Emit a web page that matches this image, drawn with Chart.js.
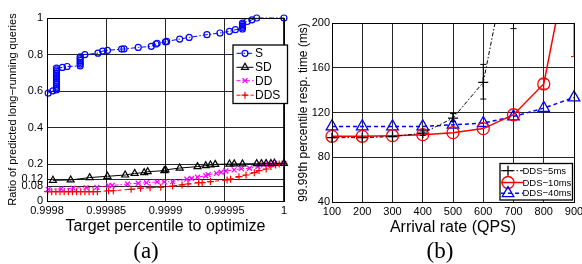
<!DOCTYPE html>
<html>
<head>
<meta charset="utf-8">
<script src="https://cdn.jsdelivr.net/npm/chart.js@4.4.1/dist/chart.umd.min.js"></script>
<style>
  html, body { margin: 0; padding: 0; background: #fff; }
  body { width: 582px; height: 264px; position: relative; overflow: hidden; }
  canvas { position: absolute; top: 0; }
  #chartA { left: 0; }
  #chartB { left: 290px; }
  .cap { position: absolute; top: 238px; line-height: 26px; font-family: "Liberation Serif", "DejaVu Serif", serif; font-size: 23px; transform: translateX(-50%); }
</style>
</head>
<body>
<canvas id="chartA" width="290" height="264"></canvas>
<canvas id="chartB" width="310" height="264"></canvas>
<div class="cap" style="left:146px">(a)</div>
<div class="cap" style="left:440px">(b)</div>
<script>
// (a) ratio of predicted long-running queries vs target percentile
const percentileTicks = [0.9998, 0.99985, 0.9999, 0.99995, 1];
const percentileLabels = ['0.9998', '0.99985', '0.9999', '0.99995', '1'];
const ratioTicks = [0, 0.08, 0.12, 0.2, 0.4, 0.6, 0.8, 1];
const ratioLabels = ['0', '0.08', '0.12', '0.2', '0.4', '0.6', '0.8', '1'];

const seriesS = [
  [0.999801, 0.590], [0.999805, 0.602],
  [0.999808, 0.607], [0.999808, 0.617], [0.999808, 0.627], [0.999808, 0.637], [0.999808, 0.647],
  [0.999808, 0.657], [0.999808, 0.667], [0.999808, 0.677], [0.999808, 0.687], [0.999808, 0.697],
  [0.999808, 0.707], [0.999808, 0.717], [0.999808, 0.726],
  [0.999813, 0.730], [0.999817, 0.735],
  [0.999828, 0.738], [0.999828, 0.748], [0.999828, 0.758], [0.999828, 0.768], [0.999828, 0.778], [0.999828, 0.788],
  [0.999832, 0.800], [0.999843, 0.808], [0.999847, 0.819], [0.999851, 0.823], [0.999863, 0.830],
  [0.999865, 0.831], [0.999877, 0.839], [0.999888, 0.845], [0.999892, 0.858], [0.999893, 0.862],
  [0.999900, 0.869], [0.999901, 0.872], [0.999912, 0.885], [0.999920, 0.894], [0.999935, 0.909],
  [0.999946, 0.918], [0.999954, 0.927], [0.999959, 0.936],
  [0.999965, 0.940], [0.999965, 0.948], [0.999965, 0.956], [0.999965, 0.964], [0.999965, 0.972],
  [0.999969, 0.981], [0.999973, 0.990], [0.999977, 1.000], [1, 1.000]
];
const seriesSD = [
  [0.999805, 0.113], [0.999820, 0.115], [0.999836, 0.128], [0.999851, 0.135], [0.999866, 0.142],
  [0.999874, 0.151], [0.999882, 0.155], [0.999885, 0.160], [0.999899, 0.166], [0.999900, 0.170],
  [0.999912, 0.180], [0.999927, 0.188], [0.999934, 0.193], [0.999938, 0.197], [0.999942, 0.200],
  [0.999954, 0.202], [0.999958, 0.203], [0.999965, 0.203], [0.999977, 0.204], [0.999981, 0.204],
  [0.999985, 0.205], [0.999989, 0.205], [0.999992, 0.206], [1, 0.206]
];
const seriesDD = [
  [0.999801, 0.064], [0.999812, 0.066], [0.999822, 0.070], [0.999833, 0.073], [0.999842, 0.075],
  [0.999852, 0.084], [0.999855, 0.085], [0.999868, 0.093], [0.999877, 0.097], [0.999884, 0.100],
  [0.999893, 0.104], [0.999899, 0.104], [0.999906, 0.106], [0.999918, 0.119], [0.999922, 0.124],
  [0.999927, 0.130], [0.999934, 0.138], [0.999936, 0.144], [0.999943, 0.151], [0.999947, 0.157],
  [0.999951, 0.164], [0.999958, 0.170], [0.999964, 0.177], [0.999971, 0.179], [0.999978, 0.188],
  [0.999983, 0.197], [0.999987, 0.202], [0.999992, 0.206], [1, 0.206]
];
const seriesDDS = [
  [0.9998005, 0.051], [0.999804, 0.051], [0.9998075, 0.051], [0.999811, 0.051], [0.9998145, 0.051],
  [0.999818, 0.051], [0.9998215, 0.051], [0.999825, 0.051], [0.9998285, 0.051], [0.999832, 0.051],
  [0.9998355, 0.051], [0.999839, 0.051], [0.9998425, 0.051],
  [0.999852, 0.056], [0.999856, 0.056], [0.999871, 0.064], [0.999879, 0.070], [0.999887, 0.073],
  [0.999896, 0.075], [0.999906, 0.082], [0.999914, 0.088], [0.999919, 0.093], [0.999928, 0.100],
  [0.999931, 0.100], [0.999938, 0.106], [0.999952, 0.115], [0.999955, 0.119], [0.999962, 0.133],
  [0.999968, 0.142], [0.999975, 0.155], [0.999979, 0.166], [0.999985, 0.175], [0.999989, 0.188],
  [0.999993, 0.197], [0.999996, 0.202], [1, 0.206]
];

// (b) 99.99th percentile response time vs arrival rate
const arrivalRates = [100, 200, 300, 400, 500, 600, 700, 800, 900];
const dds5 = [97.5, 97.5, 98.5, 101.5, 115, 147, 283];
const dds10 = [98.7, 98.7, 99.3, 100.2, 102, 105.6, 118, 145.5, 283];
const dds40 = [107.5, 107.5, 107.5, 107.5, 109, 110.5, 116.4, 123.9, 133.4];
const dds5Low = [null, null, null, 99.5, 112, 132, 195];
const dds5High = [null, null, null, 103.5, 119, 163, 370];
const dds10Low = [null, null, null, null, null, null, null, 141, 170];
const dds10High = [null, null, null, null, null, null, null, 150, 400];

const FONT = 'Liberation Sans, Arial, Helvetica, sans-serif';
const GRID = 'rgba(0,0,0,0.85)';

function marker(ctx, style, x, y, r) {
  ctx.beginPath();
  if (style === 'circle') {
    ctx.arc(x, y, r, 0, Math.PI * 2);
  } else if (style === 'triangle') {
    ctx.moveTo(x, y - r);
    ctx.lineTo(x + r * 0.866, y + r * 0.5);
    ctx.lineTo(x - r * 0.866, y + r * 0.5);
    ctx.closePath();
  } else if (style === 'cross') {
    ctx.moveTo(x - r, y); ctx.lineTo(x + r, y);
    ctx.moveTo(x, y - r); ctx.lineTo(x, y + r);
  } else if (style === 'crossRot') {
    const d = r * 0.707;
    ctx.moveTo(x - d, y - d); ctx.lineTo(x + d, y + d);
    ctx.moveTo(x + d, y - d); ctx.lineTo(x - d, y + d);
  }
  ctx.stroke();
}

const framePlugin = {
  id: 'frameLegend',
  afterDatasetsDraw(chart, args, opts) {
    if (!opts.errorBars) return;
    const ctx = chart.ctx, a = chart.chartArea;
    const xs = chart.scales.x, ys = chart.scales.y;
    ctx.save();
    ctx.beginPath();
    ctx.rect(a.left, a.top, a.right - a.left, a.bottom - a.top);
    ctx.clip();
    ctx.lineWidth = 1;
    opts.errorBars.forEach(e => {
      ctx.strokeStyle = e.color;
      e.low.forEach((lo, i) => {
        if (lo == null) return;
        const px = xs.getPixelForValue(e.xs[i]);
        const p1 = ys.getPixelForValue(lo), p2 = ys.getPixelForValue(e.high[i]);
        ctx.beginPath();
        ctx.moveTo(px, p1); ctx.lineTo(px, p2);
        ctx.moveTo(px - 3, p1); ctx.lineTo(px + 3, p1);
        ctx.moveTo(px - 3, p2); ctx.lineTo(px + 3, p2);
        ctx.stroke();
      });
    });
    ctx.restore();
  },
  afterDraw(chart, args, opts) {
    const ctx = chart.ctx, a = chart.chartArea;
    ctx.save();
    ctx.strokeStyle = '#000';
    ctx.lineWidth = 1;
    ctx.setLineDash([]);
    ctx.strokeRect(Math.round(a.left) + 0.5, Math.round(a.top) + 0.5,
      Math.round(a.right - a.left), Math.round(a.bottom - a.top));

    const lg = opts.legend;
    if (lg) {
      const b = lg.box;
      ctx.fillStyle = '#fff';
      ctx.fillRect(b[0], b[1], b[2] - b[0], b[3] - b[1]);
      ctx.lineWidth = 1.3;
      ctx.strokeRect(b[0], b[1], b[2] - b[0], b[3] - b[1]);
      ctx.font = lg.font + 'px ' + FONT;
      ctx.textBaseline = 'middle';
      lg.items.forEach((it, i) => {
        const y = lg.rows[i];
        ctx.strokeStyle = it.color;
        ctx.lineWidth = it.width;
        ctx.setLineDash(it.dash);
        ctx.beginPath();
        ctx.moveTo(lg.lineX[0], y); ctx.lineTo(lg.lineX[1], y);
        ctx.stroke();
        ctx.setLineDash([]);
        ctx.lineWidth = it.markerWidth;
        marker(ctx, it.style, lg.markerX, y, it.r);
        ctx.fillStyle = '#000';
        ctx.fillText(it.label, lg.textX, y + 0.5);
      });
    }
    ctx.restore();
  }
};

function lineSet(label, pts, color, dash, style, r, width) {
  return {
    label: label,
    data: pts.map(p => ({ x: p[0], y: p[1] })),
    borderColor: color,
    borderWidth: width,
    borderDash: dash,
    pointStyle: style,
    pointRadius: r,
    pointHoverRadius: r,
    pointBorderColor: color,
    pointBackgroundColor: 'rgba(0,0,0,0)',
    pointBorderWidth: 1.2,
    tension: 0,
    clip: false
  };
}

new Chart(document.getElementById('chartA'), {
  type: 'line',
  data: {
    datasets: [
      lineSet('S', seriesS, '#0000ff', [5, 2, 1.5, 2], 'circle', 3, 1),
      lineSet('SD', seriesSD, '#000000', [], 'triangle', 4, 1),
      lineSet('DD', seriesDD, '#ff00ff', [4, 2, 1.5, 2], 'crossRot', 3.5, 1),
      lineSet('DDS', seriesDDS, '#ff0000', [4, 3], 'cross', 3.5, 1)
    ]
  },
  options: {
    responsive: false,
    animation: false,
    events: [],
    layout: { padding: { left: 0, top: 18, right: 5, bottom: 28 } },
    plugins: {
      legend: { display: false },
      tooltip: { enabled: false },
      frameLegend: {
        legend: {
          box: [233, 45, 287.5, 103.5],
          rows: [53.3, 67.3, 80.7, 95.2],
          lineX: [236.5, 253.5],
          markerX: 245,
          textX: 255,
          font: 12,
          items: [
            { label: 'S', color: '#0000ff', dash: [5, 2, 1.5, 2], width: 1, style: 'circle', r: 3, markerWidth: 1.2 },
            { label: 'SD', color: '#000000', dash: [], width: 1, style: 'triangle', r: 4, markerWidth: 1.2 },
            { label: 'DD', color: '#ff00ff', dash: [4, 2, 1.5, 2], width: 1, style: 'crossRot', r: 3.5, markerWidth: 1.2 },
            { label: 'DDS', color: '#ff0000', dash: [4, 3], width: 1, style: 'cross', r: 3.5, markerWidth: 1.2 }
          ]
        }
      }
    },
    scales: {
      x: {
        type: 'linear',
        min: 0.9998,
        max: 1,
        afterBuildTicks: s => { s.ticks = percentileTicks.map(v => ({ value: v })); },
        afterFit: s => { s.height = 35; },
        border: { display: false },
        grid: { color: GRID, lineWidth: 1, drawTicks: false },
        ticks: {
          autoSkip: false, maxRotation: 0, padding: 3, color: '#000',
          font: { family: FONT, size: 11 },
          callback: (v, i) => percentileLabels[i]
        },
        title: { display: true, text: 'Target percentile to optimize', color: '#000', font: { family: FONT, size: 16 }, padding: { top: 4, bottom: 0 } }
      },
      y: {
        type: 'linear',
        min: 0,
        max: 1,
        afterBuildTicks: s => { s.ticks = ratioTicks.map(v => ({ value: v })); },
        afterFit: s => { s.width = 47; },
        border: { display: false },
        grid: { color: GRID, lineWidth: 1, drawTicks: false },
        ticks: {
          autoSkip: false, padding: 4, color: '#000',
          font: { family: FONT, size: 11 },
          callback: (v, i) => ratioLabels[i]
        },
        title: { display: true, text: 'Ratio of predicted long\u2212running queries', color: '#000', font: { family: FONT, size: 11 }, padding: { top: 6, bottom: 0 } }
      }
    }
  },
  plugins: [framePlugin]
});

function rateSet(label, values, color, dash, style, r, width) {
  return {
    label: label,
    data: values.map((v, i) => ({ x: arrivalRates[i], y: v })),
    borderColor: color,
    borderWidth: width,
    borderDash: dash,
    pointStyle: style,
    pointRadius: r,
    pointHoverRadius: r,
    pointBorderColor: color,
    pointBackgroundColor: 'rgba(0,0,0,0)',
    pointBorderWidth: 1.3,
    tension: 0,
    clip: { left: 12, right: 12, top: 0, bottom: 0 }
  };
}

new Chart(document.getElementById('chartB'), {
  type: 'line',
  data: {
    datasets: [
      rateSet('DDS\u22125ms', dds5, '#000000', [4, 2, 1.5, 2], 'cross', 5, 1),
      rateSet('DDS\u221210ms', dds10, '#ff0000', [], 'circle', 6, 1.5),
      rateSet('DDS\u221240ms', dds40, '#0000ff', [4, 3], 'triangle', 6.7, 1.5)
    ]
  },
  options: {
    responsive: false,
    animation: false,
    events: [],
    layout: { padding: { left: 0, top: 23, right: 26, bottom: 27 } },
    plugins: {
      legend: { display: false },
      tooltip: { enabled: false },
      frameLegend: {
        errorBars: [
          { xs: arrivalRates, low: dds5Low, high: dds5High, color: '#000000' },
          { xs: arrivalRates, low: dds10Low, high: dds10High, color: '#ff0000' }
        ],
        legend: {
          box: [210, 163.5, 282.5, 200],
          rows: [170.7, 182.5, 193.3],
          lineX: [211, 233],
          markerX: 218,
          textX: 232.5,
          font: 9.5,
          items: [
            { label: 'DDS\u22125ms', color: '#000000', dash: [4, 2, 1.5, 2], width: 1, style: 'cross', r: 5, markerWidth: 1.3 },
            { label: 'DDS\u221210ms', color: '#ff0000', dash: [], width: 1.5, style: 'circle', r: 6, markerWidth: 1.3 },
            { label: 'DDS\u221240ms', color: '#0000ff', dash: [4, 3], width: 1.5, style: 'triangle', r: 6.7, markerWidth: 1.3 }
          ]
        }
      }
    },
    scales: {
      x: {
        type: 'linear',
        min: 100,
        max: 900,
        afterFit: s => { s.height = 35; },
        border: { display: false },
        grid: { color: GRID, lineWidth: 1, drawTicks: false },
        ticks: {
          stepSize: 100, autoSkip: false, maxRotation: 0, padding: 3, color: '#000',
          font: { family: FONT, size: 11 }
        },
        title: { display: true, text: 'Arrival rate (QPS)', color: '#000', font: { family: FONT, size: 16 }, padding: { top: 4, bottom: 0 } }
      },
      y: {
        type: 'linear',
        min: 40,
        max: 200,
        afterFit: s => { s.width = 42; },
        border: { display: false },
        grid: { color: GRID, lineWidth: 1, drawTicks: false },
        ticks: {
          stepSize: 40, autoSkip: false, padding: 2, color: '#000',
          font: { family: FONT, size: 11 }
        },
        title: { display: true, text: '99.99th percentile resp. time (ms)', color: '#000', font: { family: FONT, size: 12 }, padding: { top: 6, bottom: 0 } }
      }
    }
  },
  plugins: [framePlugin]
});
</script>
</body>
</html>
